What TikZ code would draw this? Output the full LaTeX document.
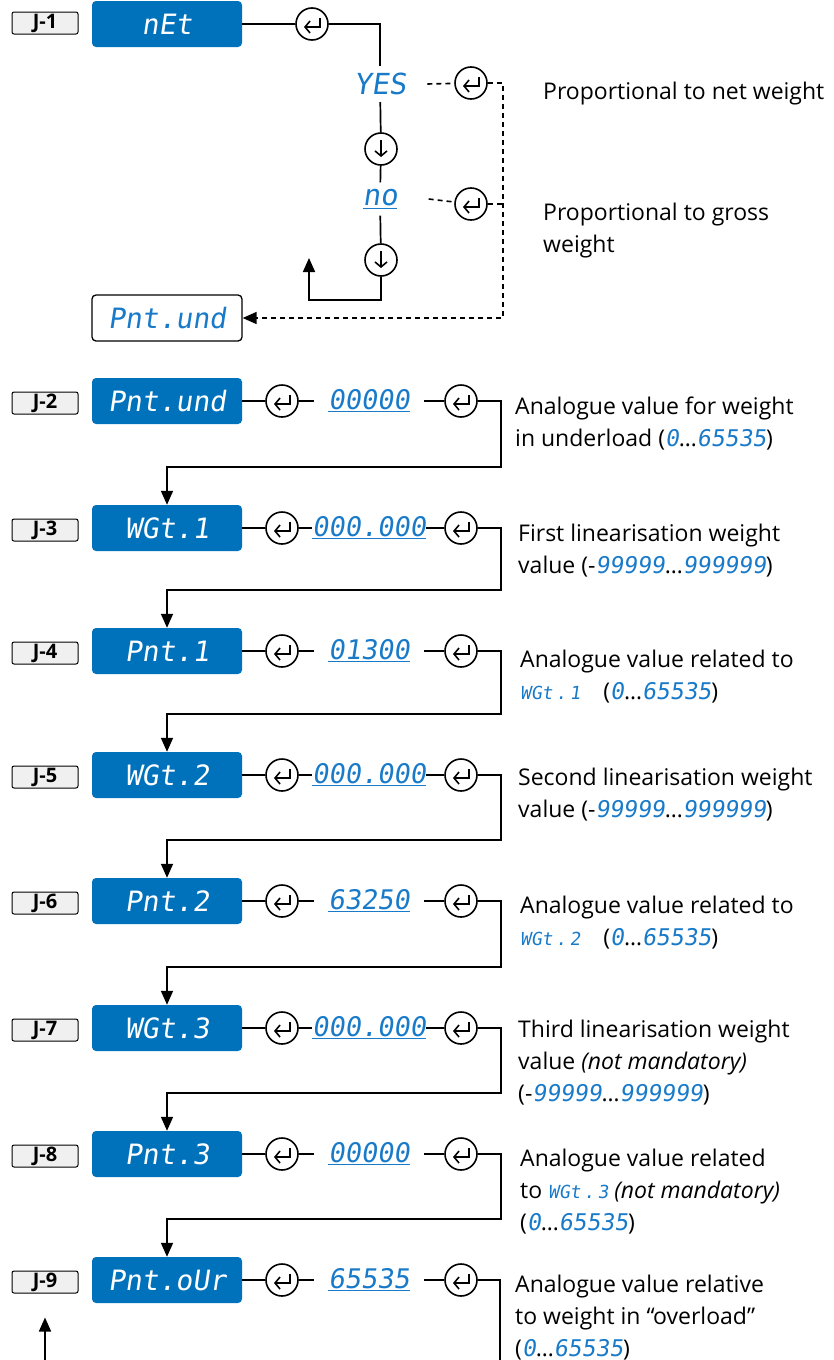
\documentclass[tikz,border=0pt]{standalone}
\usepackage{fontspec}
\setmainfont{Open Sans}
\newfontfamily\segfont{DejaVu Sans Mono}[FakeSlant=0.15]
\usetikzlibrary{arrows.meta, positioning}
\definecolor{dispblue}{RGB}{0,114,188}
\definecolor{segblue}{RGB}{24,122,200}
\newcommand{\sg}[1]{{\segfont\color{segblue}#1}}

\begin{document}
\begin{tikzpicture}[x=1pt, y=-1pt,
  tagbox/.style={rectangle, draw, fill=gray!12, rounded corners=2pt, minimum width=66pt, minimum height=22pt, inner sep=0pt, line width=1pt, font=\fontsize{20}{20}\selectfont\bfseries},
  dispbox/.style={rectangle, fill=dispblue, rounded corners=4pt, minimum width=150pt, minimum height=46pt, text=white, font=\fontsize{28}{28}\segfont},
  menubox/.style={dispbox, fill=white, draw=black, line width=1.3pt, text=segblue},
  valtext/.style={text=segblue, font=\fontsize{27}{27}\segfont, minimum width=110pt, inner sep=0pt},
  optext/.style={text=segblue, font=\fontsize{29}{29}\segfont, inner sep=7pt},
  enterkey/.style={circle, draw, fill=white, line width=1.6pt, minimum size=32pt, inner sep=0pt,
    path picture={\draw[line width=1.6pt, -{Straight Barb[length=5pt,width=12pt]}]
      ([shift={(8pt,6pt)}]path picture bounding box.center) -- ++(0pt,-9pt) -- ++(-16pt,0pt);}},
  downkey/.style={circle, draw, fill=white, line width=1.6pt, minimum size=32pt, inner sep=0pt,
    path picture={\draw[line width=1.6pt, -{Straight Barb[length=5pt,width=12pt]}]
      ([shift={(0pt,9pt)}]path picture bounding box.center) -- ++(0pt,-17pt);}},
  desc/.style={anchor=base west, align=left, inner sep=0pt, font=\fontsize{23}{32}\selectfont},
  link/.style={line width=1.7pt},
  flow/.style={line width=1.7pt, -{Triangle[length=14pt,width=12pt]}},
  optlink/.style={line width=1.6pt, dash pattern=on 5pt off 4pt}
]
  \useasboundingbox (0,0) rectangle (834,1360);

  % J-1: net / gross choice
  \node[tagbox]   (J1)  at (45,23)   {J-1};
  \node[dispbox]  (B1)  at (167,24)  {nEt};
  \node[enterkey] (E1)  at (312,24)  {};
  \node[optext]   (yes) at (380,84)  {YES};
  \node[downkey]  (D1)  at (381,149) {};
  \node[optext]   (no)  at (380,199) {\underline{no}};
  \node[downkey]  (D2)  at (381,260) {};
  \node[enterkey] (E2)  at (471,83)  {};
  \node[enterkey] (E3)  at (471,204) {};
  \node[menubox]  (B0)  at (167,318) {Pnt.und};
  \coordinate (back)   at (309,258);
  \coordinate (corner) at (503,318);

  \draw[link] (B1) -- (E1) -| (yes);
  \draw[link] (yes) -- (D1) -- (no) -- (D2);
  \draw[flow] (D2.south) -- ++(0,23) -| (back);
  \draw[optlink] ([xshift=14pt]yes.east) -- (E2);
  \draw[optlink] ([xshift=24pt]no.east) -- (E3);
  \draw[optlink] (E3.east) -- (E3.east -| corner);
  \draw[optlink, -{Triangle[length=14pt,width=12pt]}] (E2.east) -| (corner) -- (B0.east);

  \node[desc] (T1a) at (543,99)  {Proportional to net weight};
  \node[desc] (T1b) at (543,252) {Proportional to gross\\weight};

  % J-2 ... J-9: parameter rows
  \foreach \i/\y/\name/\val in {2/401/Pnt.und/00000, 3/528/WGt.1/000.000, 4/651/Pnt.1/01300,
      5/775/WGt.2/000.000, 6/901/Pnt.2/63250, 7/1028/WGt.3/000.000, 8/1154/Pnt.3/00000,
      9/1280/Pnt.oUr/65535}{
    \node[tagbox]   (J\i)  at (45,\y+2) {J-\i};
    \node[dispbox]  (B\i)  at (167,\y)  {\name};
    \node[enterkey] (Ea\i) at (282,\y)  {};
    \node[valtext]  (V\i)  at (369,\y)  {\underline{\val}};
    \node[enterkey] (Eb\i) at (461,\y)  {};
    \draw[link] (B\i) -- (Ea\i) -- (V\i) -- (Eb\i);
  }

  \foreach \i/\j in {2/3, 3/4, 4/5, 5/6, 6/7, 7/8, 8/9}{
    \draw[flow] (Eb\i.east) -- ++(23,0) |- ([yshift=38pt]B\j.north) -- (B\j.north);
  }
  \coordinate (exit)  at (500,1360);
  \coordinate (entry) at (45,1360);
  \draw[link] (Eb9.east) -| (exit);
  \draw[flow] (entry) -- ([yshift=-24pt]J9.south);

  \node[desc] (T2) at (515,446)  {Analogue value for weight\\in underload (\sg{0}\dots\sg{65535})};
  \node[desc] (T3) at (518,573)  {First linearisation weight\\value (-\sg{99999}\dots\sg{999999})};
  \node[desc] (T4) at (520,699)  {Analogue value related to\\{\fontsize{18}{18}\sg{WGt\,.\,1}}\quad(\sg{0}\dots\sg{65535})};
  \node[desc] (T5) at (518,817)  {Second linearisation weight\\value (-\sg{99999}\dots\sg{999999})};
  \node[desc] (T6) at (520,945)  {Analogue value related to\\{\fontsize{18}{18}\sg{WGt\,.\,2}}\quad(\sg{0}\dots\sg{65535})};
  \node[desc] (T7) at (518,1101) {Third linearisation weight\\value \textit{(not mandatory)}\\(-\sg{99999}\dots\sg{999999})};
  \node[desc] (T8) at (520,1230) {Analogue value related\\to {\fontsize{18}{18}\sg{WGt\,.\,3}} \textit{(not mandatory)}\\(\sg{0}\dots\sg{65535})};
  \node[desc] (T9) at (515,1356) {Analogue value relative\\to weight in “overload”\\(\sg{0}\dots\sg{65535})};
\end{tikzpicture}
\end{document}
